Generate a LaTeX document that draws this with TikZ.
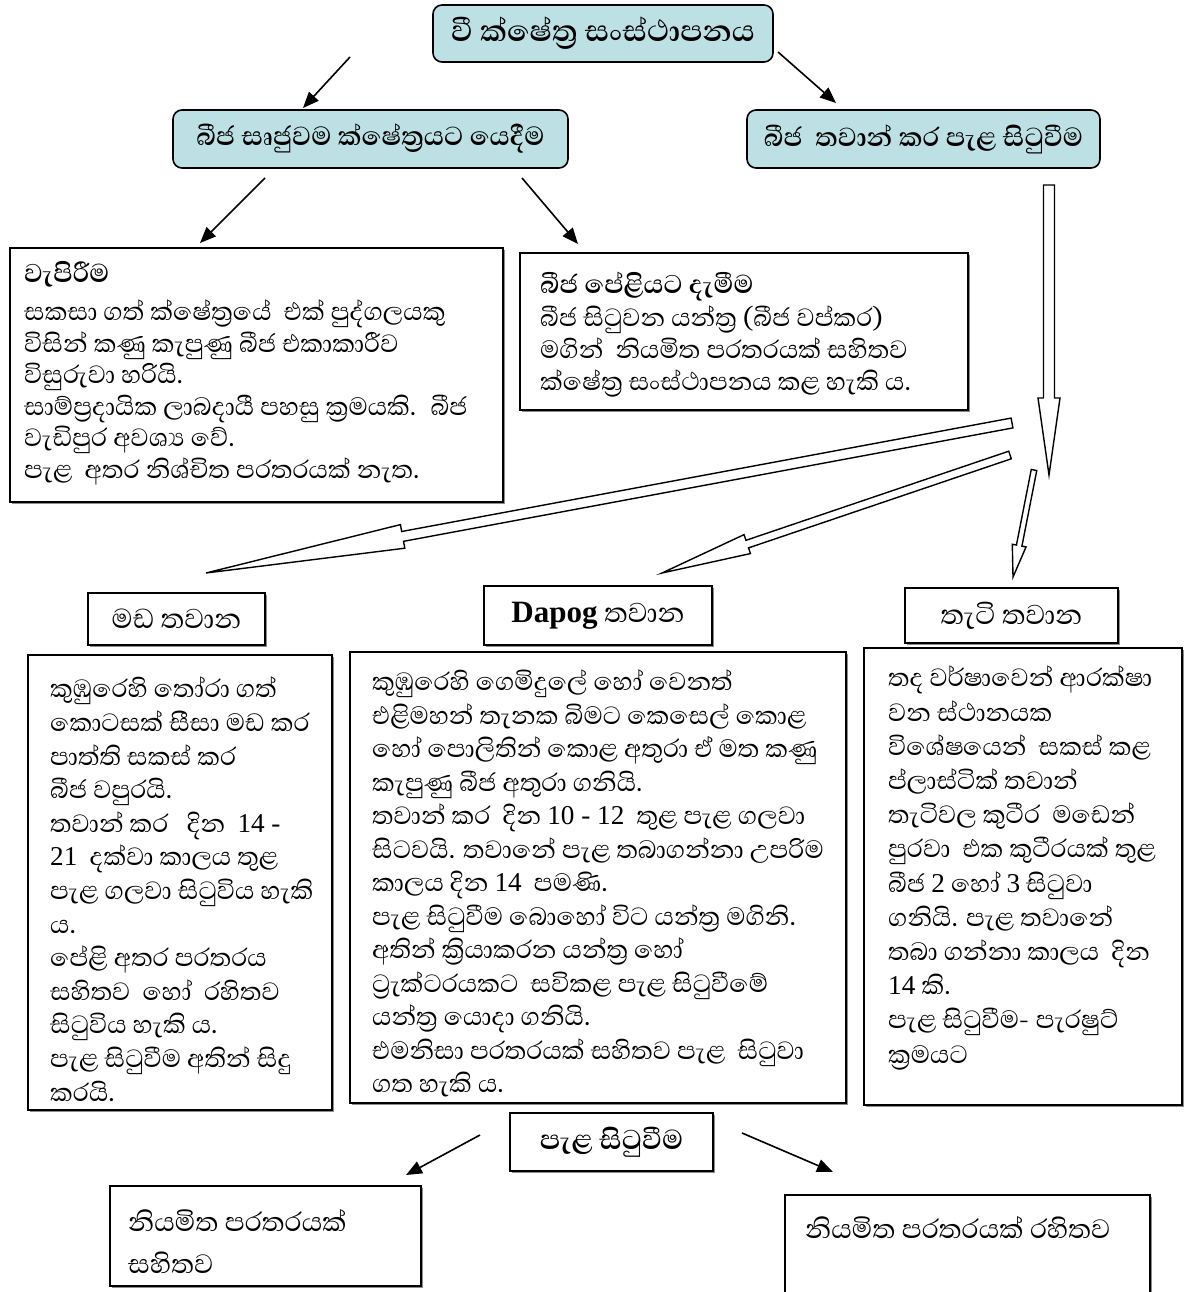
\documentclass[tikz,border=0pt]{standalone}
\usepackage{fontspec}
\setmainfont{Liberation Serif}
\newfontfamily\sinfont[Script=Sinhala]{Abhaya Libre}
\newfontfamily\latfont[Scale=0.85]{Liberation Serif}
\usetikzlibrary{arrows.meta,calc,shadows}
\definecolor{headfill}{RGB}{188,224,228}

\tikzset{
  arr/.style={-{Triangle[length=16pt,width=13pt]}, line width=1.6pt},
  topbox/.style={draw, line width=1.6pt, rounded corners=9pt, fill=headfill, inner sep=0pt,
    font=\sinfont\bfseries\fontsize{33.5}{36}\selectfont},
  box/.style={draw, line width=1.3pt, fill=white, inner sep=0pt,
    drop shadow={shadow xshift=2pt, shadow yshift=-2pt, fill=black!45, opacity=1}},
  ttl/.style={inner sep=0pt, anchor=north west, font=\sinfont\bfseries\fontsize{33}{36}\selectfont},
  txt/.style={inner sep=0pt, align=left, anchor=north west, font=\sinfont\fontsize{32}{33.6}\selectfont},
  tawana/.style={font=\sinfont\fontsize{35}{38}\selectfont},
  hollow/.style={draw, line width=1.4pt, fill=white, line join=miter}
}

\begin{document}
\begin{tikzpicture}[x=1pt,y=-1pt]
\useasboundingbox (0,0) rectangle (1183,1292);

\node[topbox, font=\sinfont\bfseries\fontsize{38}{40}\selectfont, minimum width=340pt, minimum height=57pt] (vee) at (603,33.5) {වී ක්ෂේත්^^^^200dර සංස්ථාපනය};
\node[topbox, minimum width=395pt, minimum height=58pt] (sowing) at (370.5,139) {බීජ සෘජුවම ක්ෂේත්^^^^200dරයට යෙදීම};
\node[topbox, minimum width=353pt, minimum height=58pt] (nursery) at (923.5,139) {බීජ~ තවාන් කර පැළ සිටුවීම};

\coordinate (a1s) at (350,57);   \coordinate (a1e) at (303,108);
\coordinate (a2s) at (778,52);   \coordinate (a2e) at (836,103);
\draw[arr] (a1s) -- (a1e);
\draw[arr] (a2s) -- (a2e);

\node[box, minimum width=493pt, minimum height=254pt] (vapbox) at (256.5,375) {};
\node[ttl] (vapttl) at (24,261) {වැපිරීම};
\node[txt, font=\sinfont\fontsize{32}{31.5}\selectfont] (vaptxt) at (24,300) {සකසා ගත් ක්ෂේත්^^^^200dරයේ~ එක් පුද්ගලයකු\\
විසින් කණු කැපුණු බීජ එකාකාරීව\\
විසුරුවා හරියි.\\
සාම්ප්^^^^200dරදායික ලාබදායී පහසු ක්^^^^200dරමයකි.~ බීජ\\
වැඩිපුර අවශ්^^^^200dය වේ.\\
පැළ~ අතර නිශ්චිත පරතරයක් නැත.};

\node[box, minimum width=448pt, minimum height=157pt] (pelbox) at (744,331.5) {};
\node[ttl] (pelttl) at (540,272) {බීජ පේළියට දැමීම};
\node[txt, font=\sinfont\fontsize{32}{32}\selectfont] (peltxt) at (540,306) {බීජ සිටුවන යන්ත්^^^^200dර (බීජ වප්කර)\\
මගින්~ නියමිත පරතරයක් සහිතව\\
ක්ෂේත්^^^^200dර සංස්ථාපනය කළ හැකි ය.};

\coordinate (a3s) at (265,178);  \coordinate (a3e) at (200,243);
\coordinate (a4s) at (522,178);  \coordinate (a4e) at (578,244);
\draw[arr] (a3s) -- (a3e);
\draw[arr] (a4s) -- (a4e);

\coordinate (v1) at (1049,185);  \coordinate (v2) at (1049,475);
\coordinate (l1) at (1012,423);  \coordinate (l2) at (206,573);
\coordinate (m1) at (1010,455);  \coordinate (m2) at (662,573);
\coordinate (t1) at (1034,470);  \coordinate (t2) at (1013,577);
\foreach \s/\e/\w/\h/\l in {v1/v2/5.5pt/11pt/77pt, l1/l2/5pt/12pt/200pt, m1/m2/4pt/10pt/90pt, t1/t2/2.8pt/7pt/32pt}{
  \coordinate (hb) at ($(\e)!\l!(\s)$);
  \draw[hollow] ($(\s)!\w!90:(\e)$) -- ($(hb)!\w!90:(\e)$) -- ($(hb)!\h!90:(\e)$) -- (\e)
    -- ($(hb)!\h!-90:(\e)$) -- ($(hb)!\w!-90:(\e)$) -- ($(\s)!\w!-90:(\e)$) -- cycle;
}

\node[box, tawana, minimum width=177pt, minimum height=52pt] (mada) at (176.5,619) {මඩ තවාන};
\node[box, tawana, minimum width=228pt, minimum height=59pt] (dapog) at (598,615.5) {{\latfont\bfseries\fontsize{36.5}{38}\selectfont Dapog} තවාන};
\node[box, tawana, minimum width=213pt, minimum height=55pt] (taeti) at (1011.5,615.5) {තැටි තවාන};

\node[box, minimum width=304pt, minimum height=455pt] (madabox) at (180,882.5) {};
\node[txt] (madatxt) at (50,677) {කුඹුරෙහි තෝරා ගත්\\
කොටසක් සීසා මඩ කර\\
පාත්ති සකස් කර\\
බීජ වපුරයි.\\
තවාන් කර~~ දින~ {\latfont 14 -}\\
{\latfont 21}~ දක්වා කාලය තුළ\\
පැළ ගලවා සිටුවිය හැකි\\
ය.\\
පේළි අතර පරතරය\\
සහිතව~ හෝ~ රහිතව\\
සිටුවිය හැකි ය.\\
පැළ සිටුවීම අතින් සිදු\\
කරයි.};

\node[box, minimum width=496pt, minimum height=451pt] (dapbox) at (598,877.5) {};
\node[txt, font=\sinfont\fontsize{32}{33.5}\selectfont] (daptxt) at (372,670) {කුඹුරෙහි ගෙමිදුලේ හෝ වෙනත්\\
එළිමහන් තැනක බිමට කෙසෙල් කොළ\\
හෝ පොලිතින් කොළ අතුරා ඒ මත කණු\\
කැපුණු බීජ අතුරා ගනියි.\\
තවාන් කර~ දින {\latfont 10 - 12}~ තුළ පැළ ගලවා\\
සිටවයි. තවානේ පැළ තබාගන්නා උපරිම\\
කාලය දින {\latfont 14}~ පමණි.\\
පැළ සිටුවීම බොහෝ විට යන්ත්^^^^200dර මගිනි.\\
අතින් ක්^^^^200dරියාකරන යන්ත්^^^^200dර හෝ\\
ට්^^^^200dරැක්ටරයකට~ සවිකළ පැළ සිටුවීමේ\\
යන්ත්^^^^200dර යොදා ගනියි.\\
එමනිසා පරතරයක් සහිතව පැළ~ සිටුවා\\
ගත හැකි ය.};

\node[box, minimum width=318pt, minimum height=457pt] (taetibox) at (1023,876.5) {};
\node[txt, font=\sinfont\fontsize{32}{34.2}\selectfont] (taetitxt) at (888,666) {තද වර්ෂාවෙන් ආරක්ෂා\\
වන ස්ථානයක\\
විශේෂයෙන්~ සකස් කළ\\
ප්ලාස්ටික් තවාන්\\
තැටිවල කුටීර~ මඩෙන්\\
පුරවා~ එක කුටීරයක් තුළ\\
බීජ {\latfont 2} හෝ {\latfont 3} සිටුවා\\
ගනියි. පැළ තවානේ\\
තබා ගන්නා කාලය~ දින\\
{\latfont 14} කි.\\
පැළ සිටුවීම- පැරෂුට්\\
ක්^^^^200dරමයට};

\node[box, font=\sinfont\bfseries\fontsize{35}{38}\selectfont, minimum width=203pt, minimum height=58pt] (plant) at (611.5,1142) {පැළ සිටුවීම};
\coordinate (a5s) at (480,1135);  \coordinate (a5e) at (406,1175);
\coordinate (a6s) at (742,1133);  \coordinate (a6e) at (833,1172);
\draw[arr] (a5s) -- (a5e);
\draw[arr] (a6s) -- (a6e);

\node[box, minimum width=311pt, minimum height=100pt] (withgap) at (265.5,1236) {};
\node[txt, font=\sinfont\fontsize{34}{42}\selectfont] (withtxt) at (128,1209) {නියමිත පරතරයක්\\ සහිතව};
\node[box, minimum width=365pt, minimum height=110pt] (nogap) at (967.5,1250) {};
\node[txt, font=\sinfont\fontsize{34}{42}\selectfont] (notxt) at (805,1216) {නියමිත පරතරයක් රහිතව};
\end{tikzpicture}
\end{document}
